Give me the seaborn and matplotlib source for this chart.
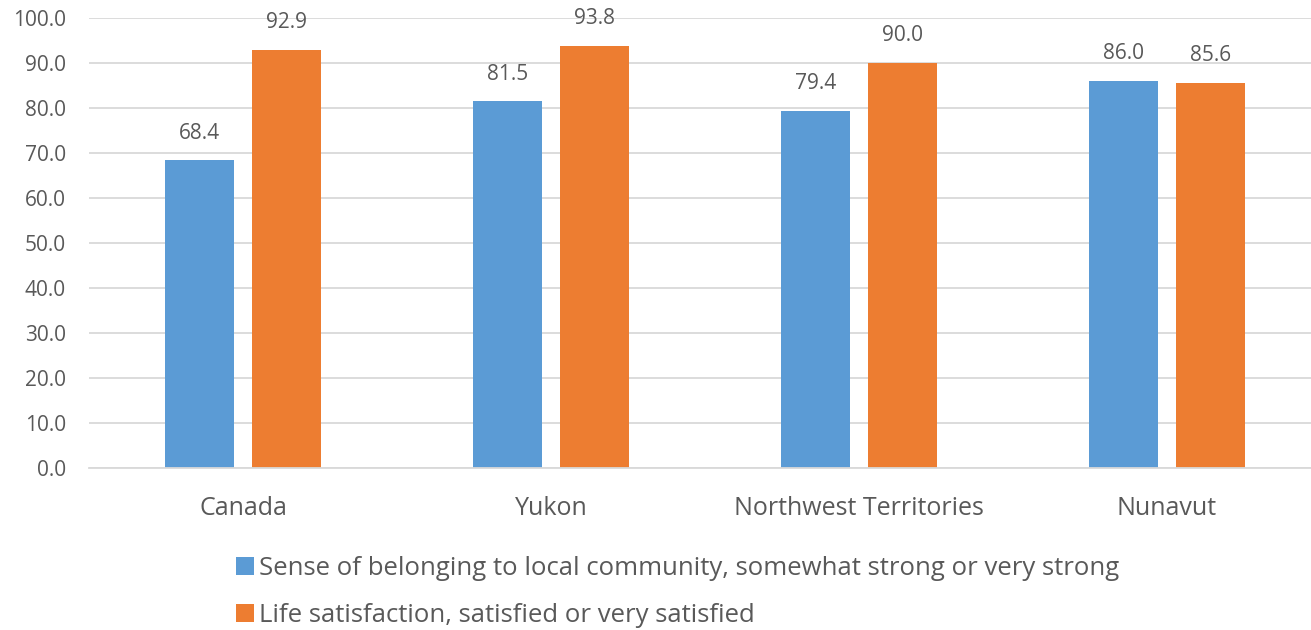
import pandas as pd
import matplotlib.pyplot as plt
import seaborn as sns
from matplotlib.patches import Patch

# === Data ===
regions = ["Canada", "Yukon", "Northwest Territories", "Nunavut"]
belonging = [68.4, 81.5, 79.4, 86.0]
satisfaction = [92.9, 93.8, 90.0, 85.6]
series_names = ["Sense of belonging to local community, somewhat strong or very strong",
                "Life satisfaction, satisfied or very satisfied"]
colors = ["#5b9bd5", "#ed7d31"]

df = pd.DataFrame({
    "Region": regions * 2,
    "Series": [series_names[0]] * 4 + [series_names[1]] * 4,
    "Value": belonging + satisfaction,
})

# === Plot ===
sns.set_theme(style="white")
plt.rcParams['font.family'] = ['Open Sans', 'DejaVu Sans']
text_color = "#595959"

fig = plt.figure(figsize=(13.11, 6.30), dpi=100)
ax = fig.add_axes([89 / 1311, 1 - 468 / 630, 1232 / 1311, 450 / 630])

sns.barplot(data=df, x="Region", y="Value", hue="Series", palette=colors,
            width=0.565, gap=0.207, saturation=1, linewidth=0, legend=False, ax=ax)

ax.set_xlim(-0.5, 3.5)
ax.set_ylim(0, 100)
ax.set_yticks(range(0, 101, 10))
ax.set_yticklabels([f"{v:.1f}" for v in range(0, 101, 10)])
ax.yaxis.grid(True, color="#d9d9d9", linewidth=1.3)
ax.set_axisbelow(True)
for side in ["top", "right", "left"]:
    ax.spines[side].set_visible(False)
ax.spines["bottom"].set_color("#d9d9d9")
ax.spines["bottom"].set_linewidth(1.3)
ax.set_xlabel("")
ax.set_ylabel("")
ax.tick_params(axis="y", labelsize=15, colors=text_color, length=0, pad=16.5)
ax.tick_params(axis="x", labelsize=18, colors=text_color, length=0, pad=20)

for container in ax.containers:
    ax.bar_label(container, fmt="%.1f", padding=12, fontsize=15, color=text_color)

handles = [Patch(facecolor=c, edgecolor="none") for c in colors]
fig.legend(handles, series_names, loc="upper left", bbox_to_anchor=(236 / 1311, 1 - 556 / 630),
           frameon=False, ncol=1, fontsize=18.5, labelcolor=text_color,
           handlelength=0.7, handleheight=0.7, handletextpad=0.2, labelspacing=0.85,
           borderaxespad=0, borderpad=0)

fig.savefig("out.png", dpi=100)
